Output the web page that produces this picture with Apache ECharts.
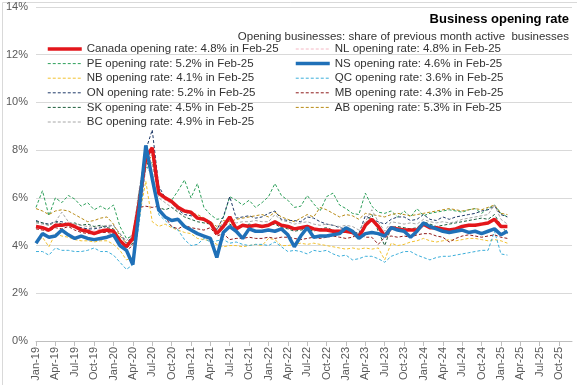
<!DOCTYPE html>
<html>
<head>
<meta charset="utf-8">
<script src="https://cdn.jsdelivr.net/npm/echarts@6/dist/echarts.min.js"></script>
<style>
html,body{margin:0;padding:0;background:#fff;}
#chart{width:577px;height:385px;}
</style>
</head>
<body>
<div id="chart"></div>
<script>
// Months Jan-19 .. Dec-25 (axis), data Jan-19 .. Feb-25
const monthNames = ['Jan','Feb','Mar','Apr','May','Jun','Jul','Aug','Sep','Oct','Nov','Dec'];
const years = ['19','20','21','22','23','24','25'];
const categories = [];
years.forEach(y => monthNames.forEach(m => categories.push(m + '-' + y)));
const lastMonth = 'Feb-25';

const canada = [4.8,4.75,4.65,4.85,4.85,4.9,4.8,4.65,4.6,4.5,4.6,4.65,
  4.6,4.2,3.95,4.3,5.8,7.7,8.1,6.2,6.0,5.85,5.6,5.45,
  5.4,5.15,5.1,4.95,4.5,4.8,5.2,4.7,4.85,4.8,4.85,4.8,
  4.85,5.0,4.85,4.8,4.7,4.75,4.8,4.7,4.65,4.65,4.6,4.6,
  4.6,4.55,4.35,4.85,5.1,4.8,4.4,4.75,4.7,4.65,4.65,4.65,
  4.9,4.75,4.75,4.7,4.65,4.7,4.8,4.85,4.85,4.9,4.95,5.1,
  4.8,4.8];
const nl = [4.85,4.8,4.7,4.9,4.9,4.95,4.85,4.75,4.7,4.6,4.7,4.7,
  4.65,4.3,4.0,4.3,5.7,7.5,7.9,6.1,5.9,5.75,5.55,5.4,
  5.35,5.1,5.05,4.9,4.55,4.85,5.15,4.75,4.9,4.85,4.9,4.85,
  4.9,5.05,4.9,4.85,4.75,4.8,4.85,4.75,4.7,4.7,4.65,4.65,
  4.65,4.6,4.4,4.9,5.15,4.85,4.45,4.8,4.75,4.7,4.7,4.7,
  4.95,4.8,4.8,4.75,4.7,4.75,4.85,4.9,4.9,4.95,5.0,5.15,
  4.85,4.8];
const pe = [5.6,6.3,5.25,6.0,5.8,6.1,5.95,5.65,5.8,5.5,5.65,5.5,
  5.7,4.8,4.3,4.4,6.0,7.2,7.5,6.2,6.0,5.9,6.3,6.75,
  6.0,6.6,5.6,5.3,5.1,5.15,6.05,5.9,5.7,5.9,5.6,5.8,
  6.05,6.6,6.1,5.9,5.6,5.65,6.1,5.75,5.45,6.05,6.2,5.7,
  5.55,5.35,5.3,6.2,5.65,5.4,5.35,5.45,5.2,5.45,5.2,5.55,
  5.25,5.35,5.4,5.45,5.5,5.45,5.4,5.5,5.55,5.35,5.55,5.7,
  5.35,5.2];
const ns = [4.1,4.5,4.35,4.4,4.65,4.45,4.3,4.4,4.3,4.25,4.3,4.35,
  4.45,4.0,3.8,3.2,5.6,8.2,6.8,5.5,5.2,5.05,5.1,4.8,
  4.65,4.5,4.4,4.3,3.5,4.55,4.8,4.6,4.3,4.7,4.6,4.6,
  4.65,4.6,4.7,4.45,3.95,4.4,4.75,4.35,4.4,4.4,4.45,4.5,
  4.75,4.6,4.3,4.5,4.55,4.5,4.4,4.75,4.65,4.6,4.35,4.6,
  4.95,4.8,4.7,4.6,4.55,4.6,4.65,4.55,4.6,4.5,4.6,4.7,
  4.45,4.6];
const nb = [4.1,4.35,3.95,4.5,4.4,4.35,4.25,4.2,4.2,4.15,4.2,4.2,
  4.05,3.8,3.4,3.5,5.2,6.7,5.0,4.8,4.9,4.75,4.65,4.55,
  4.5,4.3,4.25,4.2,4.05,3.95,4.0,4.0,3.95,4.0,4.05,4.0,
  4.3,4.25,4.0,4.0,4.05,4.1,4.05,4.1,4.05,4.0,3.95,3.9,
  3.85,3.9,3.85,3.9,3.85,3.9,3.4,4.1,4.0,4.05,4.15,4.2,
  4.3,4.2,4.15,4.2,4.25,4.2,4.25,4.3,4.3,4.25,4.2,4.25,
  4.2,4.1];
const qc = [3.75,3.75,3.6,3.9,3.8,3.8,3.75,3.75,3.8,3.9,3.75,3.75,
  3.6,3.3,3.0,3.2,5.0,7.3,7.0,5.3,5.05,4.8,4.65,4.25,
  4.0,4.05,4.3,4.15,4.2,4.25,4.1,4.15,4.05,4.0,4.05,4.05,
  4.0,4.15,3.95,3.75,3.8,3.75,3.65,3.8,3.75,3.8,3.65,3.55,
  3.6,3.4,3.45,3.55,3.55,3.45,3.3,3.55,3.65,3.75,3.75,3.6,
  3.5,3.4,3.5,3.55,3.55,3.6,3.65,3.7,3.75,3.8,3.8,4.6,
  3.65,3.6];
const on = [5.05,4.95,4.9,5.0,5.0,4.9,4.8,4.75,4.7,4.7,4.75,4.8,
  4.85,4.5,4.1,4.4,6.2,8.0,8.85,6.5,6.0,5.8,5.5,5.3,
  5.25,5.2,5.1,4.95,4.65,5.2,6.05,5.15,5.2,5.25,5.15,5.2,
  5.35,5.45,5.1,5.05,5.05,5.0,5.2,5.15,5.0,4.9,4.85,4.75,
  4.7,4.6,4.5,5.25,5.1,5.0,4.9,5.1,5.2,5.2,5.05,5.1,
  5.3,5.1,5.05,5.2,5.1,5.2,5.25,5.3,5.35,5.45,5.5,5.65,
  5.3,5.2];
const mb = [4.7,4.65,4.6,4.75,4.7,4.8,4.65,4.55,4.5,4.5,4.55,4.55,
  4.5,4.2,3.8,4.0,5.6,5.65,5.6,5.65,5.2,4.8,4.7,4.85,
  4.75,4.7,4.65,4.75,4.4,4.5,4.25,4.3,4.3,4.35,4.3,4.3,
  4.35,4.3,4.35,4.35,4.3,4.25,4.3,4.35,4.3,4.35,4.4,4.35,
  4.3,4.35,4.5,4.35,4.35,4.05,4.35,4.4,4.35,4.4,4.35,4.45,
  4.5,4.5,4.4,4.35,4.15,4.3,4.4,4.45,4.4,4.35,4.4,4.45,
  4.35,4.3];
const sk = [5.0,4.95,4.85,5.0,4.9,4.85,4.95,4.85,4.9,4.8,4.85,4.75,
  4.7,4.3,3.9,4.1,6.3,7.6,7.0,5.6,5.5,5.6,5.4,5.2,
  5.1,5.0,4.95,4.9,4.7,4.85,4.9,4.75,4.8,4.9,4.85,4.75,
  4.85,4.9,4.75,4.7,4.6,4.65,4.7,4.6,4.7,4.75,4.65,4.55,
  4.6,4.55,4.45,4.9,5.3,4.6,4.0,4.75,4.8,4.75,4.7,4.75,
  5.0,4.9,4.8,4.85,4.9,4.95,5.0,5.05,5.1,5.15,5.1,5.3,
  4.85,4.5];
const ab = [5.55,5.45,5.3,5.45,5.5,5.45,5.3,5.15,5.0,5.05,5.15,5.2,
  4.9,4.4,4.1,4.2,6.0,7.4,7.8,6.2,6.0,5.8,5.6,5.45,
  5.35,5.3,5.15,5.0,4.8,5.05,5.0,5.1,5.15,5.2,5.25,5.3,
  5.2,5.4,5.2,5.1,5.0,5.15,5.3,5.2,5.6,5.5,5.35,5.2,
  5.3,5.25,5.1,5.35,5.3,5.25,5.2,5.3,5.35,5.3,5.25,5.3,
  5.35,5.4,5.45,5.5,5.55,5.5,5.45,5.5,5.55,5.5,5.6,5.7,
  5.35,5.3];
const bc = [4.95,4.9,4.85,5.0,5.4,5.0,4.9,4.85,4.8,4.75,4.8,4.85,
  4.85,4.5,4.2,4.5,6.4,7.9,7.4,6.0,5.8,5.6,5.5,5.4,
  5.3,5.2,5.1,5.0,4.7,4.95,5.15,4.95,5.0,5.0,5.05,5.0,
  5.0,5.3,5.05,5.0,4.9,4.95,5.0,4.9,4.85,4.9,4.85,4.8,
  4.85,4.8,4.65,5.0,5.5,5.0,4.6,5.0,4.95,4.9,4.95,4.9,
  5.1,5.0,4.95,5.0,4.95,5.0,5.1,5.15,5.2,5.25,5.3,5.7,
  5.1,4.9];

const yTicks = [0,2,4,6,8,10,12,14];

const defs = [
  {key:'Canada', data:canada, color:'#E3161B', width:3.5, dashed:false, col:0, z:4},
  {key:'NL', data:nl, color:'#F4B8C4', width:1, dashed:true, col:1, z:2},
  {key:'PE', data:pe, color:'#2DA05A', width:1, dashed:true, col:0, z:2},
  {key:'NS', data:ns, color:'#1F70B8', width:3.5, dashed:false, col:1, z:5},
  {key:'NB', data:nb, color:'#F2C12E', width:1, dashed:true, col:0, z:2},
  {key:'QC', data:qc, color:'#3BAEDA', width:1, dashed:true, col:1, z:2},
  {key:'ON', data:on, color:'#1F3A68', width:1, dashed:true, col:0, z:2},
  {key:'MB', data:mb, color:'#8E1B1B', width:1, dashed:true, col:1, z:2},
  {key:'SK', data:sk, color:'#1D5E3C', width:1, dashed:true, col:0, z:2},
  {key:'AB', data:ab, color:'#B88A14', width:1, dashed:true, col:1, z:2},
  {key:'BC', data:bc, color:'#A6A6A6', width:1, dashed:true, col:0, z:2}
];
defs.forEach(d => {
  d.name = d.key + ' opening rate: ' + d.data[d.data.length-1].toFixed(1) + '% in ' + lastMonth;
});

const FONT = 'Liberation Sans';
const legendText = {fontFamily: FONT, fontSize: 11.5, color: '#333333', lineHeight: 12};

const series = defs.map(d => ({
  name: d.name,
  type: 'line',
  data: d.data,
  symbol: 'none',
  z: d.z,
  lineStyle: {color: d.color, width: d.width, type: d.dashed ? [3,2] : 'solid'},
  itemStyle: {color: d.color},
  emphasis: {disabled: true},
  animation: false
}));

const legendBase = {orient: 'vertical', top: 38, itemWidth: 34, itemHeight: 12, itemGap: 2.6,
  textStyle: legendText, selectedMode: false,
  itemStyle: {opacity: 0, borderWidth: 0}};
const legendData = col => defs.filter(d => d.col === col).map(d => ({
  name: d.name,
  lineStyle: {width: d.width, color: d.color, type: d.dashed ? [3,2] : 'solid'}
}));

const chart = echarts.init(document.getElementById('chart'), null, {renderer: 'canvas'});
chart.setOption({
  animation: false,
  backgroundColor: '#ffffff',
  title: [
    {text: 'Business opening rate', right: 3, top: 8,
     textStyle: {fontFamily: FONT, fontSize: 13, fontWeight: 'bold', color: '#000000'}},
    {text: 'Opening businesses: share of previous month active  businesses', right: 3, top: 26,
     textStyle: {fontFamily: FONT, fontSize: 11.5, fontWeight: 'normal', color: '#333333'}}
  ],
  legend: [
    Object.assign({}, legendBase, {left: 41, data: legendData(0)}),
    Object.assign({}, legendBase, {left: 289, data: legendData(1)})
  ],
  grid: {left: 36, right: 5, top: 7, bottom: 44, containLabel: false},
  xAxis: {
    type: 'category',
    data: categories,
    boundaryGap: false,
    axisLine: {lineStyle: {color: '#BFBFBF', width: 1}},
    axisTick: {show: true, interval: 2, length: 5, lineStyle: {color: '#BFBFBF'}},
    axisLabel: {interval: 2, rotate: 90, fontFamily: FONT, fontSize: 11, color: '#595959', margin: 6},
    splitLine: {show: false}
  },
  yAxis: {
    type: 'value',
    min: yTicks[0], max: yTicks[yTicks.length-1], interval: 2,
    axisLine: {show: false},
    axisTick: {show: false},
    axisLabel: {formatter: v => v + '%', fontFamily: FONT, fontSize: 11, color: '#595959', margin: 8},
    splitLine: {lineStyle: {color: '#D9D9D9', width: 1}}
  },
  graphic: [
    {type: 'rect', left: 0, top: 0, shape: {x: 0.5, y: 0.5, width: 576, height: 384},
     style: {fill: 'none', stroke: '#D9D9D9', lineWidth: 1}, silent: true, z: -1}
  ],
  series: series
});
</script>
</body>
</html>
